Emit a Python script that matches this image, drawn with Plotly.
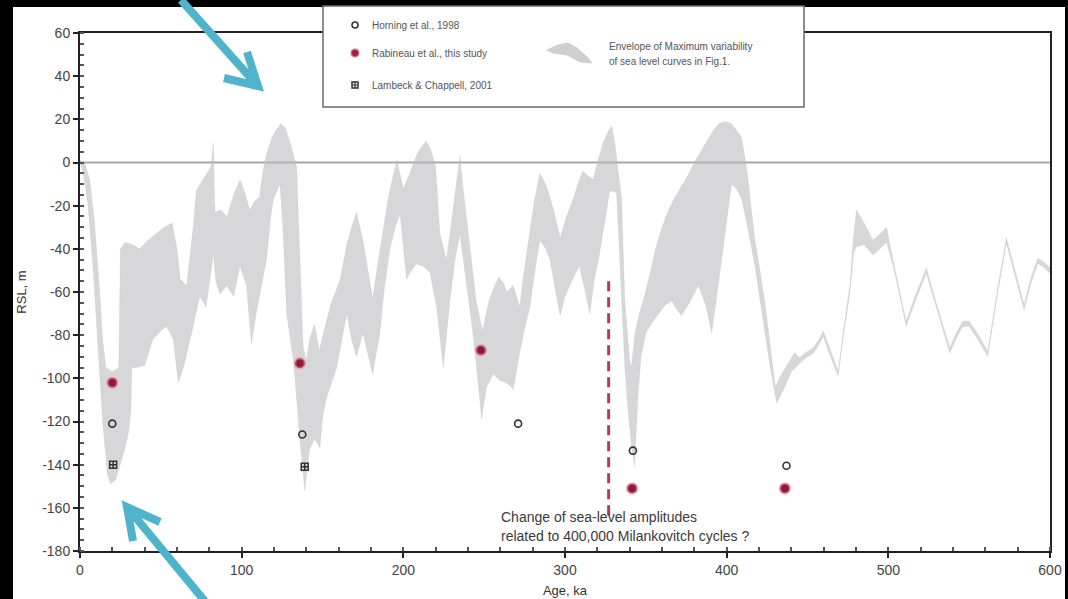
import plotly.graph_objects as go

# ---------------- data ----------------
upper_age = [0, 3, 6, 9, 12, 14, 16, 20, 24, 25, 28, 32, 37, 42, 47, 52, 57, 60, 62, 66, 70, 72, 76, 79, 81,
             82.5, 83.5, 87, 91, 95, 99, 102, 105, 108, 111, 113, 115, 119, 124, 127, 130, 134, 136, 138, 140,
             142, 145, 148, 151, 155, 161, 165, 168, 171, 175, 178, 181, 184, 187, 191, 196, 200, 204, 208, 211,
             214, 217, 220, 222.6, 226.7, 229, 231, 233, 235, 237, 239, 242, 245, 249, 253, 256, 259, 262, 264,
             268, 272, 274, 276, 278, 281, 284.5, 288.6, 293, 297, 301, 305, 308, 311, 314, 317.5, 320, 323.6,
             327, 329, 331, 333, 335, 337, 340, 341, 343.3, 346, 349.5, 353, 356, 360, 364, 368, 372, 376, 380,
             383, 387, 391, 395, 399, 403, 406, 409, 411, 413, 415, 417.5, 421, 424, 427, 430, 434, 438, 442,
             445, 449, 453.5, 457, 459.7, 464, 469, 472, 476.2, 478.5, 480.3, 485, 490.6, 495, 498.9, 503, 507,
             511, 517, 523.5, 530, 538, 542, 546, 550, 555, 561.5, 567, 573, 578, 584, 588, 592.5, 596, 600]
upper_rsl = [1, 0, -8, -28, -58, -82, -95, -97, -95, -40, -37, -38, -40, -36, -33, -30, -28, -40, -54, -57, -30,
             -13, -8, -4, -2, 9, -23, -22, -25, -15, -8, -14, -22, -18, -16, -5, 3, 12, 18, 16, 9, -2, -40, -85,
             -92, -82, -75, -87, -78, -66, -54, -38, -30, -23, -36, -50, -63, -48, -33, -15, 1, -12, -5, 3, 7, 10,
             6, -2, -33, -45, -32, -20, -8, 3, -12, -25, -45, -64, -78, -64, -58, -53, -56, -60, -57, -67, -54,
             -44, -33, -18, -5, -11, -22, -35, -25, -17, -10, -4, -6, -8, 0, 9, 15, 17, 8, -5, -17, -64, -92, -95,
             -79, -70, -61, -50, -40, -30, -22, -16, -11, -6, 0, 4, 9, 14, 18, 19, 18, 15, 12, 4, -6, -20, -36,
             -52, -67, -85, -104, -98, -93, -88,
             -90.5, -88, -86, -82, -78, -87, -96.7, -79, -57, -34, -22, -28, -36, -33, -30, -45.5, -59, -73.5,
             -61, -48.8, -66, -85.9, -79, -73.5, -73.5, -79, -87.4, -61, -34.9, -49, -65.8, -54, -44.2, -46,
             -48.8]

lower_age = [0, 2, 5, 8, 11, 14, 17, 19, 22, 25, 28, 30, 31.5, 32, 35, 40, 45, 50, 53.6, 57.7, 60.8, 64, 67,
             70, 74, 78, 82.5, 84, 86.6, 90.7, 95, 99, 103, 106, 109, 112, 115.4, 118, 119.6, 123.7, 125.7,
             127.8, 132, 134, 136, 139, 142, 145, 148.4, 150, 152.5, 158.8, 162, 165, 168, 171, 175, 178, 181,
             185.5, 188, 191.7, 195, 198, 200, 202, 205, 208, 212, 216.5, 220.6, 224.7, 228.8, 232, 235, 239,
             243, 246, 248.4, 251.5, 255.6, 259.7, 263.8, 268, 272, 275, 278.3, 281, 284.5, 288, 290.7, 294,
             297, 300, 303, 306, 309, 312, 315.3, 318, 321.4, 325, 327.7, 331.9, 334, 337, 339, 341, 343, 345,
             347, 350, 354, 358, 362, 366, 369, 372, 377, 382.5, 387, 390.8, 394, 399, 403, 406, 409.3, 413,
             417.5, 421, 423.7, 427, 431, 436, 440, 444,
             445, 449, 453.5, 457, 459.7, 464, 469, 472, 476.2, 478.5, 480.3, 485, 490.6, 495, 498.9, 503, 507,
             511, 517, 523.5, 530, 538, 542, 546, 550, 555, 561.5, 567, 573, 578, 584, 588, 592.5, 596, 600]
lower_rsl = [0, -5, -20, -48, -85, -120, -145, -149, -147, -140, -132, -125, -115, -95, -95, -94, -82, -78, -76,
             -82, -102, -95, -85, -76, -62, -67, -42, -55, -61, -57, -62, -48, -57, -84, -70, -58, -45, -25, -17,
             -10, -33, -70, -91.5, -110, -128, -152, -133, -128, -132, -118, -109, -95, -82, -70, -82, -90, -79,
             -88, -98, -79, -60, -40, -30, -24, -40, -54, -50, -47, -48, -51, -67, -95, -64, -45, -33, -56, -79,
             -100, -119, -104, -98, -101, -102, -105, -88, -77, -67, -52, -36, -40, -45, -58, -71, -62, -57, -52,
             -48, -58, -70, -55, -42, -25, -13, -14, -48, -95, -115, -130, -141, -110, -90, -79, -74, -70, -66,
             -64, -68, -71, -65, -57, -66, -79, -60, -33, -10, -12, -17, -30, -48, -65, -79, -95, -111.5, -104,
             -97, -94,
             -93, -90.5, -88.5, -84.5, -80.5, -89.5, -99, -81.5, -60.5, -42, -39, -38, -43, -40, -37, -48, -61.5,
             -76, -63.5, -51.3, -68.5, -88.4, -81.5, -76, -76, -81.5, -89.9, -63.5, -37.4, -51.5, -68.3, -56.5,
             -46.7, -48.5, -51.3]

horning_age = [20, 137.5, 271, 342, 437]
horning_rsl = [-121, -126, -121, -133.5, -140.5]

rabineau_age = [20, 136, 248, 341.5, 436]
rabineau_rsl = [-102, -93, -87, -151, -151]

lambeck_age = [20.5, 139]
lambeck_rsl = [-140, -141]

zero_age = [0, 600]
zero_rsl = [0, 0]

milankovitch_age = [327, 327]
milankovitch_rsl = [-55, -165]

x_ticks = [0, 100, 200, 300, 400, 500, 600]
y_ticks = [60, 40, 20, 0, -20, -40, -60, -80, -100, -120, -140, -160, -180]

legend_labels = ["Horning et al., 1998", "Rabineau et al., this study", "Lambeck & Chappell, 2001"]
envelope_label = ["Envelope of Maximum variability", "of sea level curves in Fig.1."]
note_lines = ["Change of sea-level amplitudes", "related to 400,000 Milankovitch cycles ?"]

# ---------------- layout geometry ----------------
W, H = 1068, 599
ML, MR, MT, MB = 80, 18, 33, 48
PW, PH = W - ML - MR, H - MT - MB


def px(x):
    return (x - ML) / PW


def py(y):
    return (H - MB - y) / PH


FONT = "Liberation Sans, Arial, Helvetica, sans-serif"

fig = go.Figure()

# zero line
fig.add_trace(go.Scatter(x=zero_age, y=zero_rsl, mode="lines",
                         line=dict(color="#a8a8a8", width=2), hoverinfo="skip", showlegend=False))

# envelope polygon
env_x = upper_age + lower_age[::-1]
env_y = upper_rsl + lower_rsl[::-1]
fig.add_trace(go.Scatter(x=env_x, y=env_y, mode="lines", fill="toself",
                         fillcolor="rgba(188,188,194,0.6)", line=dict(width=0.5, color="rgba(188,188,194,0.45)"),
                         hoverinfo="skip", showlegend=False))

# Milankovitch dashed line
fig.add_trace(go.Scatter(x=milankovitch_age, y=milankovitch_rsl, mode="lines",
                         line=dict(color="#b23a58", width=3, dash="10px,6px"),
                         hoverinfo="skip", showlegend=False))

# data points
fig.add_trace(go.Scatter(x=horning_age, y=horning_rsl, mode="markers",
                         marker=dict(symbol="circle-open", size=7, color="#333333", line=dict(width=1.6)),
                         showlegend=False))
fig.add_trace(go.Scatter(x=rabineau_age, y=rabineau_rsl, mode="markers",
                         marker=dict(symbol="circle", size=10, color="#8e1a35",
                                     line=dict(width=3, color="rgba(235,140,165,0.45)")),
                         showlegend=False))
fig.add_trace(go.Scatter(x=lambeck_age, y=lambeck_rsl, mode="markers",
                         marker=dict(symbol="square-cross-open", size=7, color="#333333", line=dict(width=1.5)),
                         showlegend=False))

shapes = []
# white page over black frame
shapes.append(dict(type="rect", xref="paper", yref="paper", layer="below",
                   x0=px(13), x1=px(1065), y0=py(600), y1=py(7),
                   fillcolor="white", line=dict(width=0)))

# legend box
shapes.append(dict(type="rect", xref="paper", yref="paper", layer="above",
                   x0=px(323), x1=px(804), y0=py(107), y1=py(6),
                   fillcolor="white", line=dict(color="#6a6a6a", width=1.5)))
# legend symbols
r = 3
shapes.append(dict(type="circle", xref="paper", yref="paper", layer="above",
                   x0=px(355 - r), x1=px(355 + r), y0=py(25 + r), y1=py(25 - r),
                   fillcolor="white", line=dict(color="#333", width=1.5)))
shapes.append(dict(type="circle", xref="paper", yref="paper", layer="above",
                   x0=px(355 - 4), x1=px(355 + 4), y0=py(53 + 4), y1=py(53 - 4),
                   fillcolor="#9a2340", line=dict(color="rgba(235,140,165,0.6)", width=2)))
shapes.append(dict(type="rect", xref="paper", yref="paper", layer="above",
                   x0=px(352), x1=px(358), y0=py(88), y1=py(82),
                   fillcolor="white", line=dict(color="#333", width=1.5)))
shapes.append(dict(type="path", xref="paper", yref="paper", layer="above",
                   path=f"M {px(355)} {py(82)} L {px(355)} {py(88)} M {px(352)} {py(85)} L {px(358)} {py(85)}",
                   line=dict(color="#333", width=1.2)))
swatch = [(547, 50), (558, 45), (568, 43), (577, 48), (587, 57), (592, 63), (580, 62), (567, 55), (553, 53)]
path = "M " + " L ".join(f"{px(a)} {py(b)}" for a, b in swatch) + " Z"
shapes.append(dict(type="path", xref="paper", yref="paper", layer="above", path=path,
                   fillcolor="#cfcfd2", line=dict(color="#cfcfd2", width=1)))

# cyan arrows
ARROW = "#4fb4cb"


def arrow(tail, tip, a1, a2):
    p = (f"M {px(tail[0])} {py(tail[1])} L {px(tip[0])} {py(tip[1])} "
         f"M {px(a1[0])} {py(a1[1])} L {px(tip[0])} {py(tip[1])} L {px(a2[0])} {py(a2[1])}")
    return dict(type="path", xref="paper", yref="paper", layer="above", path=p,
                line=dict(color=ARROW, width=8))


shapes.append(arrow((181, 0), (258, 86), (247, 52), (224, 78)))
shapes.append(arrow((208, 605), (127, 507), (160, 522), (133, 541)))

annotations = []
for lab, yy in zip(legend_labels, [25, 53, 85]):
    annotations.append(dict(xref="paper", yref="paper", x=px(370), y=py(yy), text=lab,
                            showarrow=False, xanchor="left", yanchor="middle",
                            font=dict(family=FONT, size=10, color="#555")))
for lab, yy in zip(envelope_label, [47, 61]):
    annotations.append(dict(xref="paper", yref="paper", x=px(607), y=py(yy), text=lab,
                            showarrow=False, xanchor="left", yanchor="middle",
                            font=dict(family=FONT, size=10, color="#555")))
for lab, yy in zip(note_lines, [517, 536]):
    annotations.append(dict(xref="paper", yref="paper", x=px(499), y=py(yy), text=lab,
                            showarrow=False, xanchor="left", yanchor="middle",
                            font=dict(family=FONT, size=14, color="#3a3a3a")))

axis_common = dict(showline=True, linecolor="#222", linewidth=2, mirror=True, ticks="outside",
                   ticklen=5, tickwidth=1.5, tickcolor="#222", showgrid=False, zeroline=False,
                   tickfont=dict(family=FONT, size=14, color="#444"), automargin=False)

fig.update_layout(
    width=W, height=H, template="none",
    margin=dict(l=ML, r=MR, t=MT, b=MB, pad=0),
    paper_bgcolor="black", plot_bgcolor="white",
    showlegend=False,
    xaxis=dict(range=[0, 600], tickmode="array", tickvals=x_ticks, ticktext=[str(v) for v in x_ticks],
               minor=dict(dtick=20, ticks="inside", ticklen=4, tickcolor="#555"),
               title=dict(text="Age, ka", standoff=9, font=dict(family=FONT, size=13, color="#333")),
               **axis_common),
    yaxis=dict(range=[-180, 60], tickmode="array", tickvals=y_ticks, ticktext=[str(v) for v in y_ticks],
               minor=dict(dtick=5, ticks="inside", ticklen=4, tickcolor="#555"),
               title=dict(text="RSL, m", standoff=13, font=dict(family=FONT, size=13, color="#333")),
               **axis_common),
    shapes=shapes,
    annotations=annotations,
)

fig.write_html("out.html", config={"displayModeBar": False},
               post_script="document.body.style.margin='0';document.body.style.padding='0';"
                           "document.documentElement.style.overflow='hidden';")
